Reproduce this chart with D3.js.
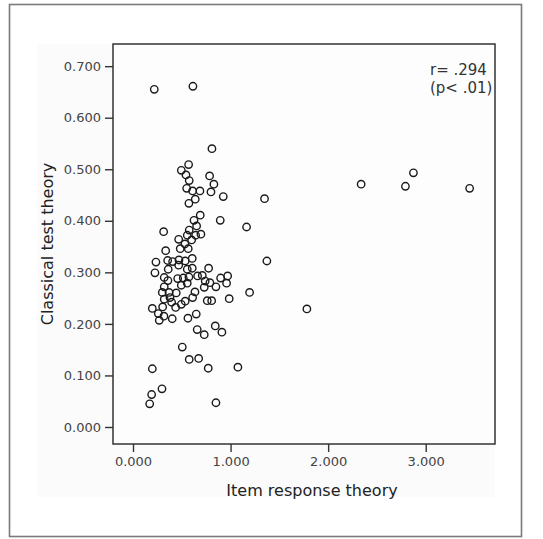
<!DOCTYPE html>
<html lang="en">
<head>
<meta charset="UTF-8">
<title>IRT vs CTT</title>
<script src="https://cdnjs.cloudflare.com/ajax/libs/d3/7.8.5/d3.min.js"></script>
<style>
  body { margin: 0; background: #fff; }
  svg { display: block; font-family: "DejaVu Sans", sans-serif; }
</style>
</head>
<body>
<svg width="543" height="539"></svg>
<script>
// item discrimination: IRT (x) vs classical test theory (y)
const irtValues = [
  0.218, 0.614, 0.809, 0.570, 0.495, 0.543, 0.576, 0.785, 0.829, 0.550,
  0.611, 0.686, 0.799, 0.925, 1.348, 0.638, 0.573, 0.689, 0.625, 0.894,
  1.164, 0.314, 0.652, 0.576, 0.696, 0.556, 0.642, 0.468, 0.601, 0.532,
  0.484, 0.566, 0.335, 0.235, 0.355, 0.406, 0.471, 0.535, 0.607, 1.372,
  0.468, 0.361, 0.556, 0.607, 0.225, 0.775, 0.320, 0.358, 0.458, 0.515,
  0.573, 0.662, 0.710, 0.740, 0.788, 0.898, 0.970, 0.495, 0.556, 0.730,
  0.850, 0.959, 0.320, 0.300, 0.369, 0.443, 0.635, 1.195, 0.320, 0.379,
  0.611, 0.396, 0.535, 0.761, 0.806, 0.986, 0.304, 0.437, 0.495, 0.198,
  0.259, 0.317, 0.402, 0.269, 0.563, 0.648, 0.843, 0.658, 0.911, 0.730,
  0.505, 0.576, 0.673, 0.198, 0.771, 1.075, 0.297, 0.191, 0.171, 0.850,
  1.782, 2.338, 2.792, 2.874, 3.450
];
const cttValues = [
  0.655, 0.661, 0.540, 0.509, 0.498, 0.489, 0.478, 0.487, 0.471, 0.463,
  0.458, 0.458, 0.456, 0.447, 0.443, 0.442, 0.434, 0.411, 0.401, 0.401,
  0.388, 0.379, 0.390, 0.382, 0.374, 0.372, 0.372, 0.364, 0.363, 0.355,
  0.346, 0.346, 0.342, 0.320, 0.323, 0.321, 0.324, 0.322, 0.327, 0.322,
  0.314, 0.306, 0.306, 0.308, 0.299, 0.308, 0.290, 0.284, 0.288, 0.289,
  0.291, 0.293, 0.294, 0.283, 0.280, 0.289, 0.293, 0.275, 0.279, 0.271,
  0.272, 0.279, 0.272, 0.261, 0.261, 0.260, 0.262, 0.261, 0.248, 0.251,
  0.251, 0.242, 0.244, 0.245, 0.245, 0.249, 0.233, 0.232, 0.238, 0.230,
  0.220, 0.215, 0.210, 0.207, 0.211, 0.219, 0.196, 0.189, 0.184, 0.179,
  0.155, 0.131, 0.133, 0.113, 0.114, 0.116, 0.074, 0.063, 0.045, 0.047,
  0.229, 0.471, 0.467, 0.493, 0.463
];
const xTicks = [0, 1, 2, 3];
const yTicks = [0, 0.1, 0.2, 0.3, 0.4, 0.5, 0.6, 0.7];
const annotation = ["r= .294", "(p< .01)"];

const points = irtValues.map((v, i) => ({ x: v, y: cttValues[i] }));

const svg = d3.select("svg");
const plot = { left: 113, top: 44, right: 495, bottom: 444 };

const x = d3.scaleLinear().domain([-0.205, 3.71]).range([plot.left, plot.right]);
const y = d3.scaleLinear().domain([-0.033, 0.743]).range([plot.bottom, plot.top]);

// outer frame and faint chart background
svg.append("rect")
    .attr("x", 9.5).attr("y", 4.5).attr("width", 512).attr("height", 532)
    .attr("fill", "#fff").attr("stroke", "#7a7a7a").attr("stroke-width", 1.6);
svg.append("rect")
    .attr("x", 37).attr("y", 44).attr("width", 458).attr("height", 453)
    .attr("fill", "#fbfbfb");
svg.append("rect")
    .attr("x", plot.left).attr("y", plot.top)
    .attr("width", plot.right - plot.left).attr("height", plot.bottom - plot.top)
    .attr("fill", "#fdfdfd").attr("stroke", "#333").attr("stroke-width", 1.5);

const fmt = d3.format(".3f");

const xAxis = svg.append("g")
    .attr("transform", `translate(0,${plot.bottom})`)
    .call(d3.axisBottom(x).tickValues(xTicks).tickFormat(fmt).tickSize(8).tickPadding(5));
const yAxis = svg.append("g")
    .attr("transform", `translate(${plot.left},0)`)
    .call(d3.axisLeft(y).tickValues(yTicks).tickFormat(fmt).tickSize(8).tickPadding(4));

[xAxis, yAxis].forEach(g => {
    g.select(".domain").remove();
    g.selectAll(".tick line").attr("stroke", "#333").attr("stroke-width", 1.4);
    g.selectAll(".tick text")
        .attr("fill", "#444")
        .style("font-size", "13px")
        .style("font-family", "DejaVu Sans, sans-serif");
});

svg.append("text")
    .attr("x", (plot.left + plot.right) / 2 + 8).attr("y", 496)
    .attr("text-anchor", "middle")
    .attr("fill", "#222").style("font-size", "16px")
    .text("Item response theory");

svg.append("text")
    .attr("transform", `translate(53,${(plot.top + plot.bottom) / 2}) rotate(-90)`)
    .attr("text-anchor", "middle")
    .attr("fill", "#222").style("font-size", "16px")
    .text("Classical test theory");

svg.append("g").selectAll("text")
    .data(annotation)
    .join("text")
    .attr("x", 430)
    .attr("y", (d, i) => 75 + i * 18)
    .attr("fill", "#333").style("font-size", "15px")
    .text(d => d);

svg.append("g").selectAll("circle")
    .data(points)
    .join("circle")
    .attr("cx", d => x(d.x))
    .attr("cy", d => y(d.y))
    .attr("r", 3.7)
    .attr("fill", "none")
    .attr("stroke", "#1a1a1a")
    .attr("stroke-width", 1.4);
</script>
</body>
</html>
